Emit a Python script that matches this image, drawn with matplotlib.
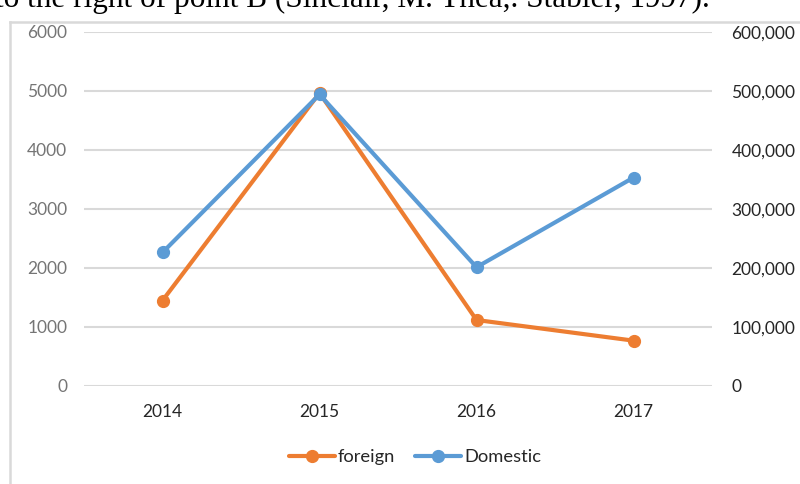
import matplotlib
matplotlib.use("Agg")
import matplotlib.pyplot as plt
from matplotlib.lines import Line2D
from matplotlib.ticker import FuncFormatter

years = ["2014", "2015", "2016", "2017"]
foreign = [1445, 4965, 1115, 765]
domestic = [226000, 494000, 201000, 353000]
left_ticks = [0, 1000, 2000, 3000, 4000, 5000, 6000]
right_ticks = [0, 100000, 200000, 300000, 400000, 500000, 600000]
caption = "to the right of point B (Sinclair, M. Thea,. Stabler, 1997)."

ORANGE = "#ED7D31"
BLUE = "#5B9BD5"
GRID = "#D9D9D9"
FONT = "Lato"

fig = plt.figure(figsize=(8, 4.84), dpi=100)
ax = fig.add_axes([0.105, 0.203, 0.785, 0.731])
ax2 = ax.twinx()

x = list(range(len(years)))
l1, = ax.plot(x, foreign, color=ORANGE, lw=3.0, marker="o", ms=8.5,
              solid_capstyle="round", label="foreign", zorder=3)
l2, = ax2.plot(x, domestic, color=BLUE, lw=3.0, marker="o", ms=8.5,
               solid_capstyle="round", label="Domestic", zorder=3)

ax.set_xlim(-0.5, len(years) - 0.5)
ax.set_ylim(0, 6000)
ax2.set_ylim(0, 600000)
ax.set_yticks(left_ticks)
ax2.set_yticks(right_ticks)
ax.set_xticks(x)
ax.set_xticklabels(years)
ax2.yaxis.set_major_formatter(FuncFormatter(lambda v, p: f"{int(v):,}"))

ax.grid(axis="y", color=GRID, lw=1.5)
ax.set_axisbelow(True)
for a in (ax, ax2):
    for s in a.spines.values():
        s.set_visible(False)
ax.tick_params(axis="both", length=0)
ax2.tick_params(axis="both", length=0)
ax.tick_params(axis="y", labelsize=12.5, labelcolor="#757575", pad=12)
ax.tick_params(axis="x", labelsize=12.5, labelcolor="#262626", pad=13)
ax2.tick_params(axis="y", labelsize=12.5, labelcolor="#262626", pad=14)
for lab in ax.get_xticklabels() + ax.get_yticklabels() + ax2.get_yticklabels():
    lab.set_fontfamily(FONT)

leg = fig.legend(handles=[l1, l2], loc="center", bbox_to_anchor=(0.519, 1 - 457 / 484),
                 ncol=2, frameon=False, handlelength=2.5, handletextpad=0.15,
                 columnspacing=1.1, prop={"family": FONT, "size": 13.2})
for t in leg.get_texts():
    t.set_color("#262626")

# chart frame (left and top edges visible)
fig.add_artist(Line2D([10 / 800, 10 / 800], [0, 1 - 22 / 484], transform=fig.transFigure,
                      color=GRID, lw=1.8))
fig.add_artist(Line2D([10 / 800, 1], [1 - 22 / 484, 1 - 22 / 484], transform=fig.transFigure,
                      color=GRID, lw=1.8))

fig.text(-0.006, 1 - 6.5 / 484, caption, family="Liberation Serif", fontsize=22.5,
         va="baseline", ha="left", color="black")

fig.savefig("out.png", dpi=100)
